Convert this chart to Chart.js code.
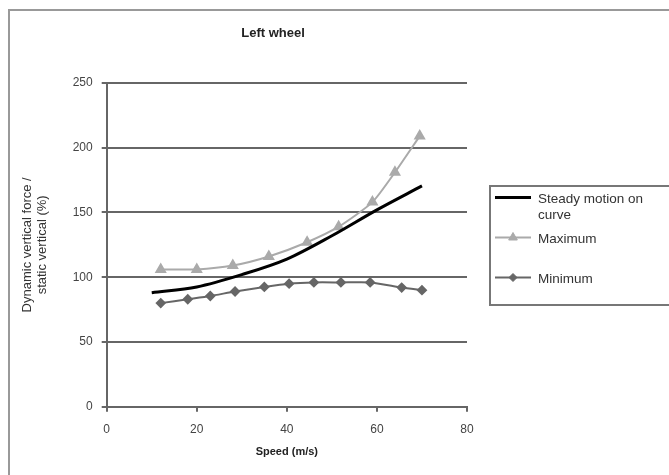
<!DOCTYPE html>
<html>
<head>
<meta charset="utf-8">
<script src="https://cdn.jsdelivr.net/npm/chart.js@4/dist/chart.umd.min.js"></script>
<style>
  html, body { margin: 0; padding: 0; background: #fff; }
  #wrap { width: 669px; height: 475px; }
</style>
</head>
<body>
<div id="wrap"><canvas id="wheelChart" width="669" height="475"></canvas></div>
<script>
// data
const steadySpeed = [10, 20, 30, 40, 50, 60, 70];
const steadyValues = [88, 92.5, 102, 114, 132, 152, 170.5];

const maxSpeed = [12, 20, 28, 36, 44.5, 51.5, 59, 64, 69.5];
const maxValues = [106, 106, 109, 116, 127, 139, 158, 181, 209];

const minSpeed = [12, 18, 23, 28.5, 35, 40.5, 46, 52, 58.5, 65.5, 70];
const minValues = [80, 83, 85.5, 89, 92.5, 95, 96, 96, 96, 92, 90];

const xTicks = [0, 20, 40, 60, 80];
const yTicks = [0, 50, 100, 150, 200, 250];

const seriesLabels = ['Steady motion on curve', 'Maximum', 'Minimum'];

function toPoints(xs, ys) {
    return xs.map((x, i) => ({ x: x, y: ys[i] }));
}

const FONT = 'Arial, "Liberation Sans", sans-serif';
const gridColor = '#666';

// outer frame, title and legend box
const framePlugin = {
    id: 'frame',
    beforeDraw(chart) {
        const ctx = chart.ctx;
        ctx.save();
        ctx.fillStyle = '#fff';
        ctx.fillRect(0, 0, chart.width, chart.height);
        ctx.strokeStyle = '#999';
        ctx.lineWidth = 2;
        ctx.strokeRect(9, 10, 720, 520);
        ctx.restore();
    },
    afterDraw(chart) {
        const ctx = chart.ctx;
        ctx.save();
        // title
        ctx.fillStyle = '#222';
        ctx.font = 'bold 13px ' + FONT;
        ctx.textAlign = 'center';
        ctx.textBaseline = 'middle';
        ctx.fillText('Left wheel', 273, 33);

        // legend
        ctx.strokeStyle = '#777';
        ctx.lineWidth = 2;
        ctx.strokeRect(490, 186, 220, 119);
        const rows = [
            { y: 197.5, lines: ['Steady motion on', 'curve'] },
            { y: 237.5, lines: ['Maximum'] },
            { y: 277.5, lines: ['Minimum'] }
        ];
        chart.data.datasets.forEach((ds, i) => {
            const r = rows[i];
            ctx.strokeStyle = ds.borderColor;
            ctx.lineWidth = ds.borderWidth;
            ctx.beginPath();
            ctx.moveTo(495, r.y);
            ctx.lineTo(531, r.y);
            ctx.stroke();
            if (ds.pointRadius > 0) {
                ctx.fillStyle = ds.pointBackgroundColor;
                ctx.strokeStyle = ds.borderColor;
                ctx.lineWidth = 1;
                Chart.helpers.drawPoint(ctx, {
                    pointStyle: ds.pointStyle,
                    radius: ds.pointRadius,
                    borderWidth: 1,
                    rotation: 0
                }, 513, r.y);
            }
            ctx.fillStyle = '#333';
            ctx.font = '13.5px ' + FONT;
            ctx.textAlign = 'left';
            ctx.textBaseline = 'middle';
            r.lines.forEach((t, k) => ctx.fillText(t, 538, r.y + 2 + k * 16));
        });
        ctx.restore();
    }
};

new Chart(document.getElementById('wheelChart'), {
    type: 'scatter',
    data: {
        datasets: [
            {
                label: seriesLabels[0],
                data: toPoints(steadySpeed, steadyValues),
                showLine: true,
                borderColor: '#000',
                backgroundColor: '#000',
                borderWidth: 3,
                pointRadius: 0,
                cubicInterpolationMode: 'monotone'
            },
            {
                label: seriesLabels[1],
                data: toPoints(maxSpeed, maxValues),
                showLine: true,
                borderColor: '#aaa',
                backgroundColor: '#aaa',
                pointBackgroundColor: '#aaa',
                borderWidth: 2,
                pointStyle: 'triangle',
                pointRadius: 5,
                tension: 0.2
            },
            {
                label: seriesLabels[2],
                data: toPoints(minSpeed, minValues),
                showLine: true,
                borderColor: '#666',
                backgroundColor: '#666',
                pointBackgroundColor: '#666',
                borderWidth: 2,
                pointStyle: 'rectRot',
                pointRadius: 4,
                tension: 0.2
            }
        ]
    },
    options: {
        responsive: false,
        animation: false,
        layout: { padding: { left: 0, right: 202, top: 83, bottom: 0 } },
        plugins: {
            legend: { display: false },
            title: { display: false },
            tooltip: { enabled: false }
        },
        scales: {
            x: {
                type: 'linear',
                min: 0,
                max: 80,
                afterBuildTicks: s => { s.ticks = xTicks.map(v => ({ value: v })); },
                afterFit: s => { s.height = 68.3; },
                grid: { drawOnChartArea: false, drawTicks: true, tickLength: 5, color: gridColor, lineWidth: 2 },
                border: { display: true, color: gridColor, width: 2 },
                ticks: { color: '#444', padding: 11, font: { family: FONT, size: 12 } },
                title: {
                    display: true,
                    text: 'Speed (m/s)',
                    color: '#222',
                    font: { family: FONT, size: 11, weight: 'bold', lineHeight: 1.2 },
                    padding: { top: 0, bottom: 16 }
                }
            },
            y: {
                type: 'linear',
                min: 0,
                max: 250,
                afterBuildTicks: s => { s.ticks = yTicks.map(v => ({ value: v })); },
                afterFit: s => { s.width = 106.7; },
                grid: { drawTicks: true, tickLength: 5, color: gridColor, lineWidth: 2 },
                border: { display: true, color: gridColor, width: 2 },
                ticks: { color: '#444', padding: 9, font: { family: FONT, size: 12 } },
                title: {
                    display: true,
                    text: ['Dynamic vertical force /', 'static vertical (%)'],
                    color: '#333',
                    font: { family: FONT, size: 13, lineHeight: 1.15 },
                    padding: { top: 20, bottom: 0 }
                }
            }
        }
    },
    plugins: [framePlugin]
});
</script>
</body>
</html>
